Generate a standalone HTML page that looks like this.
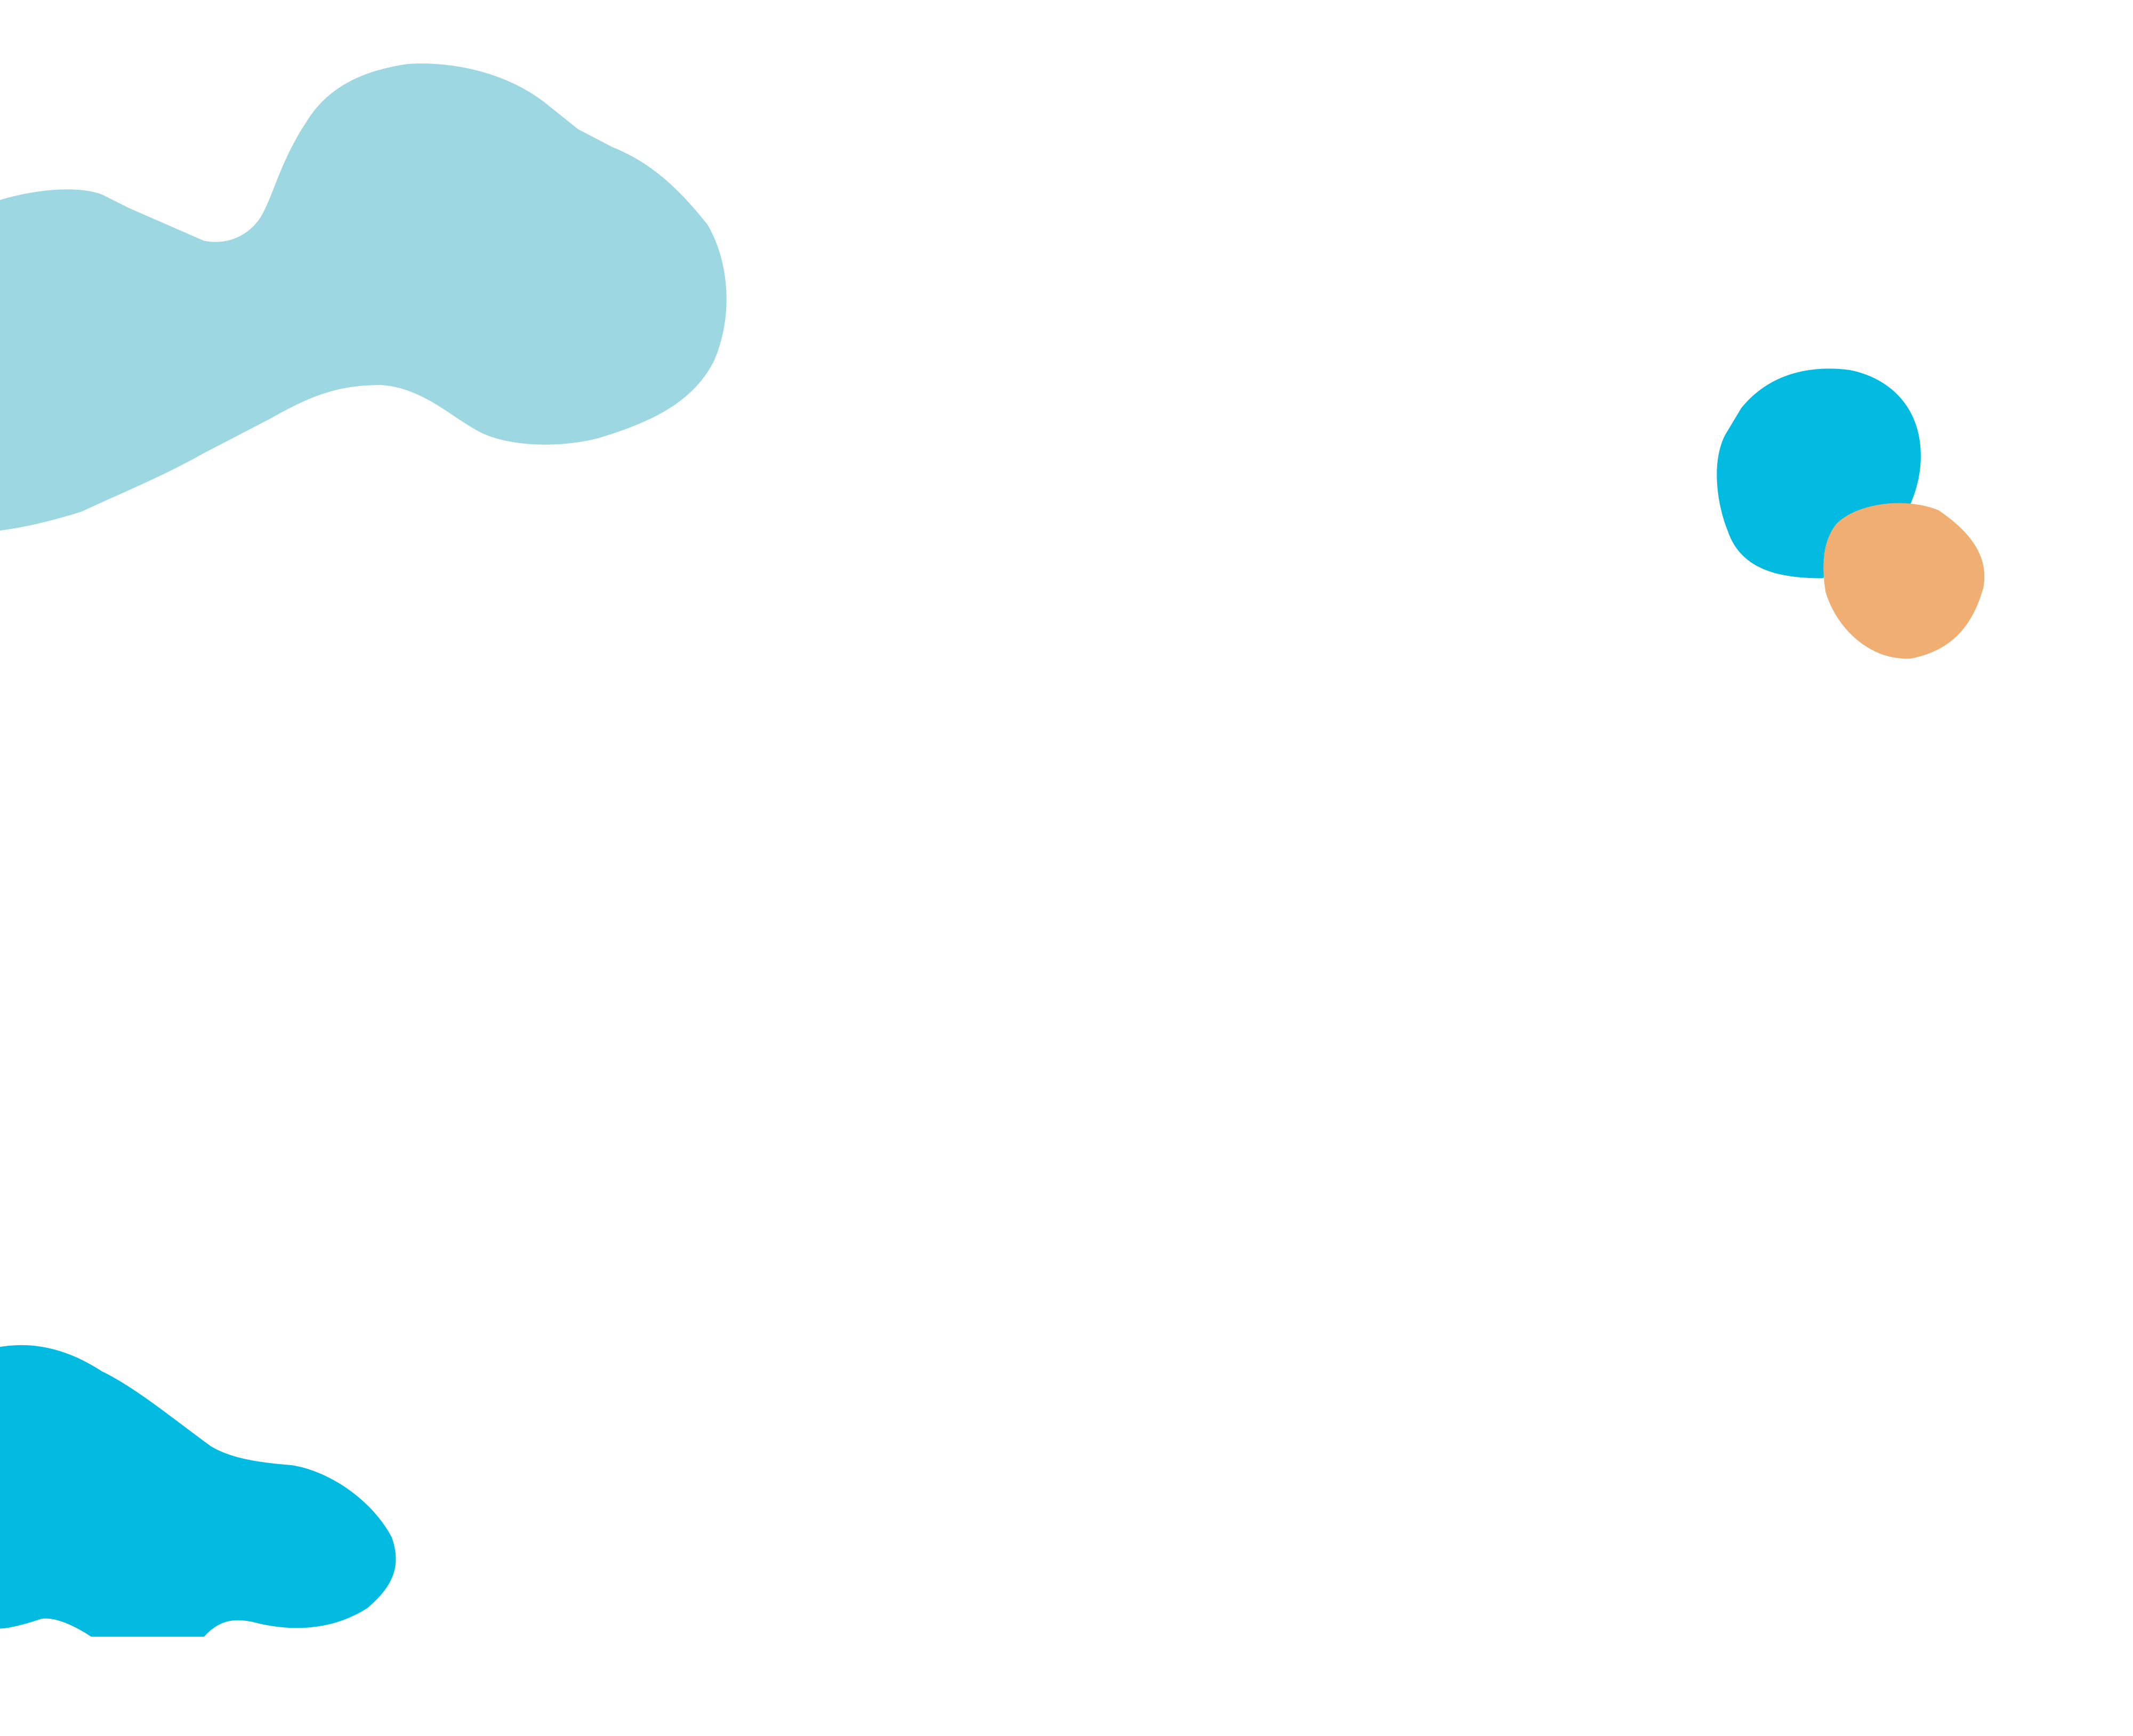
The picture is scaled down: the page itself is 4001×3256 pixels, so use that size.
<!DOCTYPE html>
<html>
<head>
<meta charset="utf-8">
<style>
html,body{margin:0;padding:0;background:#fff;}
svg{display:block;width:4001px;height:3256px;}
</style>
</head>
<body>
<svg viewBox="0 0 1568 1276" preserveAspectRatio="none" xmlns="http://www.w3.org/2000/svg">
<rect width="1568" height="1276" fill="#fff"/>
<path fill="#9dd7e2" d="M0,147 C30,138 60,137 75,143 L95,153 L150,177 C165,180 180,175 190,162 C200,148 205,120 225,90 C240,65 265,52 300,47 C330,45 370,52 400,75 L425,95 L450,108 C480,120 500,140 520,165 C535,190 540,230 525,265 C510,295 480,310 440,322 C410,330 370,328 350,316 C330,305 310,285 280,283 C250,283 230,290 200,307 L150,333 C120,350 90,362 60,376 C35,384 15,388 0,390 Z"/>
<path fill="#03bae0" d="M1280,300 C1300,275 1330,268 1360,272 C1390,278 1412,300 1412,335 C1412,355 1405,370 1400,380 L1340,425 C1310,425 1280,420 1270,390 C1262,370 1258,340 1268,320 Z"/>
<path fill="#f1ae72" d="M1350,385 C1365,370 1400,365 1425,375 C1450,392 1462,410 1458,432 C1450,460 1435,478 1405,484 C1375,486 1350,462 1342,435 C1338,410 1342,395 1350,385 Z"/>
<path fill="#03bae0" d="M0,990 C30,985 55,995 75,1008 C100,1020 130,1045 155,1063 C170,1072 190,1075 215,1077 C245,1082 275,1105 288,1130 C295,1150 290,1165 270,1182 C245,1198 215,1200 185,1192 C170,1189 160,1192 150,1203 L67,1203 C55,1195 40,1188 30,1190 C15,1195 5,1197 0,1197 Z"/>
</svg>
</body>
</html>
